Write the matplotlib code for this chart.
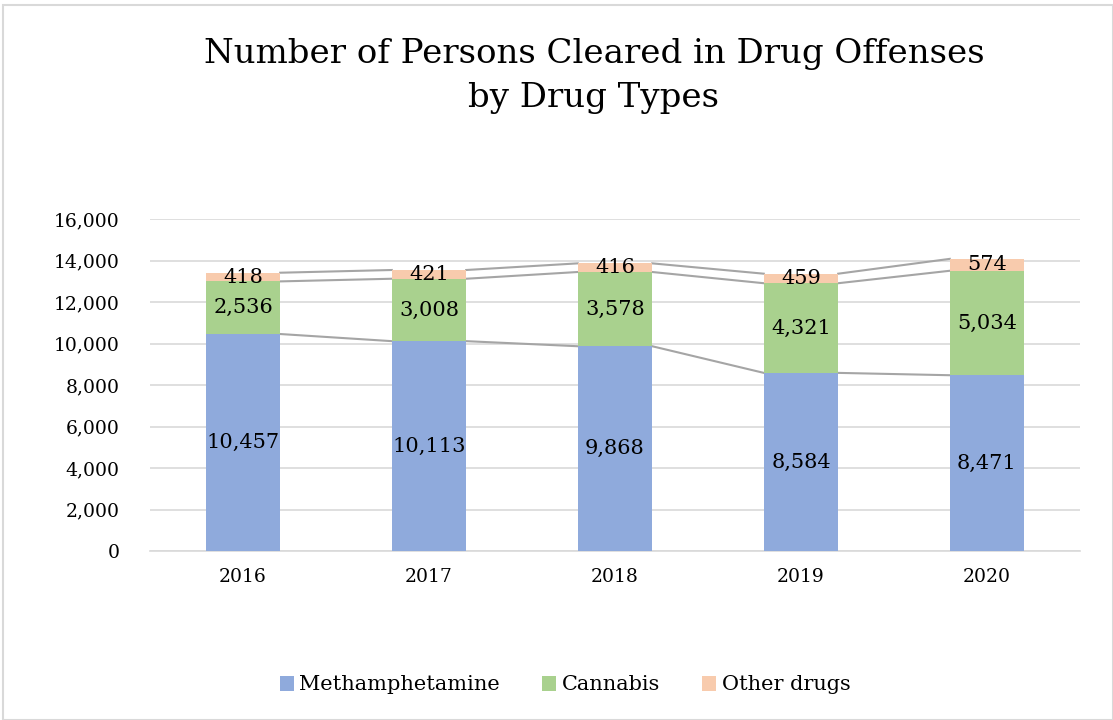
import matplotlib
matplotlib.use("Agg")
import matplotlib.pyplot as plt
import numpy as np
from matplotlib.patches import Rectangle

years = ["2016", "2017", "2018", "2019", "2020"]
meth = [10457, 10113, 9868, 8584, 8471]
cannabis = [2536, 3008, 3578, 4321, 5034]
other = [418, 421, 416, 459, 574]
series_names = ["Methamphetamine", "Cannabis", "Other drugs"]
colors = ["#8FAADC", "#A9D18E", "#F8CBAD"]
yticks = list(range(0, 16001, 2000))

plt.rcParams['font.family'] = ['DejaVu Serif']

fig = plt.figure(figsize=(11.13, 7.2), dpi=100)
ax = fig.add_axes([150/1113, 1-551/720, 930/1113, (551-219)/720])

x = np.arange(len(years))
w = 0.40
series = [meth, cannabis, other]
bottom = np.zeros(len(years))
tops = []
for vals, c, name in zip(series, colors, series_names):
    vals = np.array(vals)
    ax.bar(x, vals, w, bottom=bottom, color=c, label=name, zorder=3)
    for xi, b, v in zip(x, bottom, vals):
        ax.text(xi, b + v/2, f"{v:,}", ha="center", va="center", fontsize=15, zorder=5)
    bottom = bottom + vals
    tops.append(bottom.copy())

for t in tops:
    for i in range(len(years)-1):
        ax.plot([x[i]+w/2, x[i+1]-w/2], [t[i], t[i+1]], color="#A5A5A5", lw=1.5, zorder=2)

ax.set_xlim(-0.5, len(years)-0.5)
ax.set_ylim(0, 16000)
ax.set_yticks(yticks)
ax.set_yticklabels([f"{v:,}" for v in yticks], fontsize=13.5)
ax.set_xticks(x)
ax.set_xticklabels(years, fontsize=13.5)
ax.grid(axis="y", color="#D9D9D9", lw=1.2, zorder=0)
for s in ["top", "right", "left"]:
    ax.spines[s].set_visible(False)
ax.spines["bottom"].set_color("#D9D9D9")
ax.spines["bottom"].set_linewidth(1.2)
ax.tick_params(length=0, pad=12)
ax.tick_params(axis="y", pad=22)

fig.text(594/1113, 1-76/720, "Number of Persons Cleared in Drug Offenses\nby Drug Types",
         ha="center", va="center", fontsize=24.5, linespacing=1.45)

leg = fig.legend(loc="center", bbox_to_anchor=(565/1113, 1-685/720), ncol=3, frameon=False,
                 fontsize=15, handlelength=0.7, handleheight=0.7, handletextpad=0.25, columnspacing=2.0)

fig.add_artist(Rectangle((3/1113, 0), 1-3/1113, 1-5/720, transform=fig.transFigure,
                         fill=False, edgecolor="#D9D9D9", lw=1.5))

fig.savefig("out.png", dpi=100)
